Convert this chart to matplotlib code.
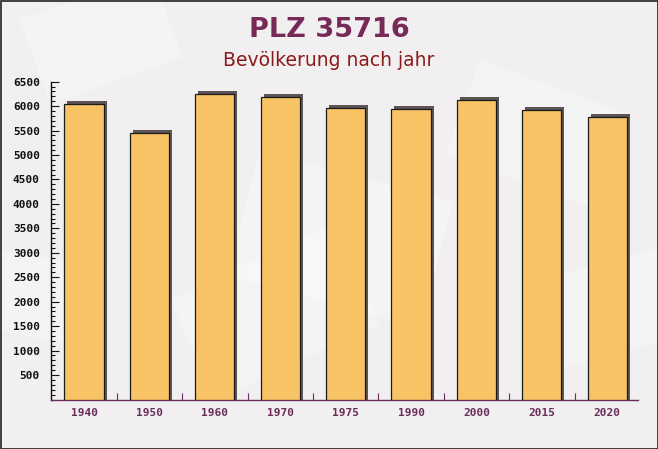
import matplotlib
matplotlib.use("Agg")
import matplotlib.pyplot as plt
from matplotlib.ticker import MultipleLocator, FixedLocator
from matplotlib.patches import Rectangle

years = ["1940", "1950", "1960", "1970", "1975", "1990", "2000", "2015", "2020"]
population = [6040, 5445, 6243, 6181, 5956, 5942, 6132, 5921, 5772]
y_ticks = [500, 1000, 1500, 2000, 2500, 3000, 3500, 4000, 4500, 5000, 5500, 6000, 6500]

W, H = 658, 449
fig = plt.figure(figsize=(W / 100, H / 100), dpi=100)
fig.patch.set_facecolor("#f1eff0")

# faint decorative background shapes
bg = fig.add_axes([0, 0, 1, 1], zorder=-10)
bg.set_xlim(0, W)
bg.set_ylim(H, 0)
bg.axis("off")
for (x0, y0, w, h, ang) in [(20, 20, 140, 90, -20), (260, 150, 200, 130, 15),
                             (170, 300, 180, 110, -25), (480, 60, 160, 100, 20),
                             (540, 280, 130, 90, -15), (0, 250, 110, 80, 10)]:
    bg.add_patch(Rectangle((x0, y0), w, h, angle=ang, facecolor="white",
                           alpha=0.35, edgecolor="none"))
bg.add_patch(Rectangle((0.5, 0.5), W - 1, H - 1, fill=False, edgecolor="#222222", lw=1.2))

ax = fig.add_axes([51 / W, 1 - 399.5 / H, (638 - 51) / W, (399.5 - 81.7) / H])
ax.set_facecolor("none")

x = list(range(len(years)))
bw = 0.6
dx = 3 / 65.4
dy = 3 * 6500 / 317.8
ax.bar([i + dx for i in x], [v + dy for v in population], width=bw,
       color="#5d5456", edgecolor="none", zorder=2)
ax.bar(x, population, width=bw, color="#f7c365", edgecolor="#1a1a1a",
       linewidth=0.9, zorder=3)

ax.set_xlim(-0.505, 8.47)
ax.set_ylim(0, 6500)

ax.set_xticks(x)
ax.set_xticklabels(years)
ax.xaxis.set_minor_locator(FixedLocator([i + 0.5 for i in x]))
ax.tick_params(axis="x", which="major", length=0, pad=6,
               labelcolor="#6b2d5b")
ax.tick_params(axis="x", which="minor", direction="in", length=5,
               color="#6b2d5b", width=0.8)

ax.yaxis.set_major_locator(FixedLocator(y_ticks))
ax.yaxis.set_minor_locator(MultipleLocator(100))
ax.tick_params(axis="y", which="major", direction="in", length=6, width=0.8,
               color="#111111", pad=8, labelcolor="#111111")
ax.tick_params(axis="y", which="minor", direction="in", length=3, width=0.8,
               color="#111111")

for lab in ax.get_xticklabels() + ax.get_yticklabels():
    lab.set_fontfamily("DejaVu Sans Mono")
    lab.set_fontweight("bold")
    lab.set_fontsize(8)

for s in ["top", "right"]:
    ax.spines[s].set_visible(False)
ax.spines["left"].set_color("#111111")
ax.spines["left"].set_linewidth(1.0)
ax.spines["bottom"].set_color("#6b2d5b")
ax.spines["bottom"].set_linewidth(1.0)

fig.text(0.5, 1 - 37 / H, "PLZ 35716", ha="center", va="baseline",
         fontsize=19.5, fontweight="bold", color="#772a58",
         family="DejaVu Sans")
fig.text(0.5, 1 - 66 / H, "Bevölkerung nach jahr", ha="center", va="baseline",
         fontsize=13.5, color="#8b1a1a", family="DejaVu Sans")

fig.savefig("out.png", dpi=100, facecolor=fig.get_facecolor())
